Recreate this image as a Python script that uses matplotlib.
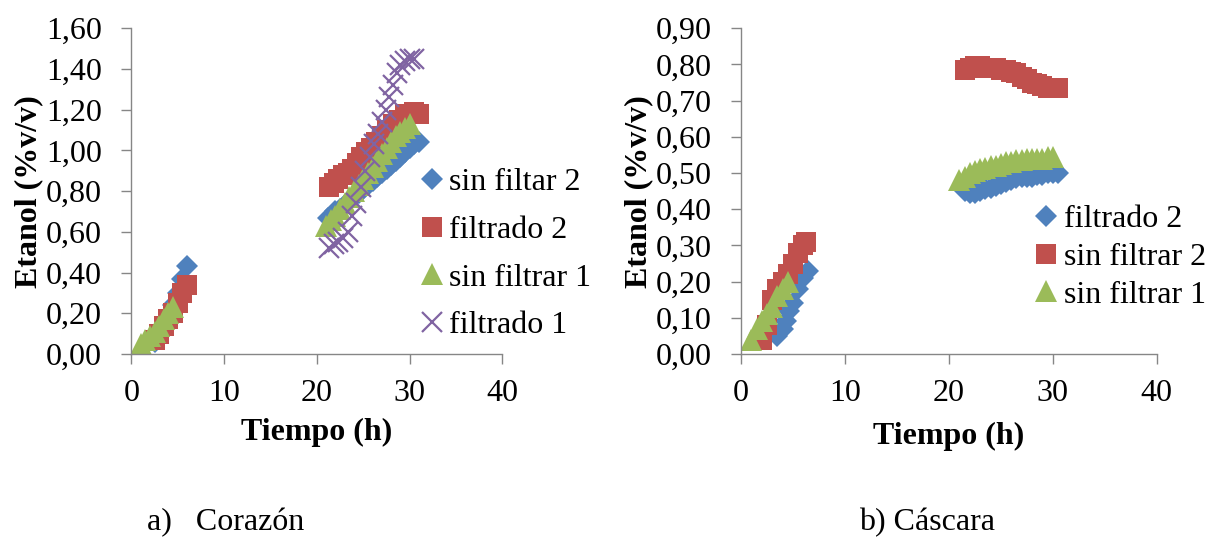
import matplotlib
matplotlib.use('Agg')
import matplotlib.pyplot as plt
from matplotlib.ticker import FuncFormatter, MultipleLocator

plt.rcParams['font.family'] = ['Liberation Serif', 'DejaVu Serif']

# colores de la paleta de Excel
AZUL = '#4F81BD'
ROJO = '#C0504D'
VERDE = '#9BBB59'
MORADO = '#8064A2'

# ---- a) Corazon ----
cor_sf2_t = [2.5, 3.0, 3.5, 4.0, 4.5, 5.0, 5.5, 6.0,
             21.2, 21.6, 22.0, 22.5, 23.0, 23.5, 24.0, 24.5, 25.0, 25.5, 26.0,
             26.5, 27.0, 27.5, 28.0, 28.5, 29.0, 29.5, 30.0, 30.5, 31.0]
cor_sf2_e = [0.06, 0.09, 0.13, 0.18, 0.24, 0.30, 0.37, 0.43,
             0.67, 0.68, 0.70, 0.71, 0.73, 0.75, 0.77, 0.79, 0.81, 0.83, 0.85,
             0.87, 0.89, 0.91, 0.93, 0.95, 0.97, 0.99, 1.01, 1.03, 1.04]

cor_f2_t = [2.5, 3.0, 3.5, 4.0, 4.5, 5.0, 5.5, 6.0,
            21.3, 21.8, 22.3, 22.8, 23.3, 23.8, 24.3, 24.8, 25.3, 25.8, 26.4,
            27.0, 27.6, 28.2, 28.8, 29.5, 30.0, 30.5, 31.0]
cor_f2_e = [0.07, 0.10, 0.14, 0.17, 0.20, 0.25, 0.30, 0.34,
            0.82, 0.84, 0.86, 0.88, 0.89, 0.91, 0.94, 0.97, 0.99, 1.01, 1.04,
            1.07, 1.10, 1.13, 1.15, 1.18, 1.18, 1.19, 1.18]

cor_sf1_t = [1.0, 1.5, 2.0, 2.5, 3.0, 3.5, 4.0, 4.5,
             21.0, 21.5, 22.0, 22.5, 23.0, 23.5, 24.0, 24.5, 25.0, 25.5, 26.0,
             26.5, 27.0, 27.5, 28.0, 28.5, 29.0, 29.5, 30.0]
cor_sf1_e = [0.05, 0.07, 0.09, 0.11, 0.14, 0.17, 0.20, 0.23,
             0.63, 0.66, 0.68, 0.71, 0.74, 0.77, 0.80, 0.83, 0.86, 0.89, 0.92,
             0.95, 0.98, 1.01, 1.04, 1.07, 1.09, 1.11, 1.13]

cor_f1_t = [21.3, 21.8, 22.3, 22.8, 23.3, 23.8, 24.2, 24.7, 25.2, 25.7, 26.2,
            26.6, 27.0, 27.4, 27.8, 28.2, 28.6, 29.0, 29.5, 30.0, 30.5]
cor_f1_e = [0.52, 0.54, 0.55, 0.57, 0.60, 0.68, 0.74, 0.82, 0.90, 0.97, 1.03,
            1.08, 1.14, 1.20, 1.26, 1.32, 1.38, 1.42, 1.44, 1.45, 1.45]

# ---- b) Cascara ----
cas_f2_t = [3.5, 4.0, 4.3, 4.6, 5.0, 5.5, 6.0, 6.4,
            21.5, 22.0, 22.5, 23.0, 23.5, 24.0, 24.5, 25.0, 25.5, 26.0, 26.5,
            27.0, 27.5, 28.0, 28.5, 29.0, 29.5, 30.0, 30.5]
cas_f2_e = [0.05, 0.07, 0.09, 0.12, 0.14, 0.18, 0.21, 0.23,
            0.45, 0.445, 0.445, 0.45, 0.455, 0.46, 0.465, 0.47, 0.475, 0.48, 0.485,
            0.49, 0.49, 0.49, 0.495, 0.495, 0.50, 0.50, 0.50]

cas_sf2_t = [2.0, 2.5, 3.0, 3.5, 4.0, 4.5, 5.0, 5.5, 6.0, 6.2,
             21.5, 22.0, 22.5, 23.0, 23.5, 24.0, 24.5, 25.0, 25.5, 26.0, 26.5,
             27.0, 27.5, 28.0, 28.5, 29.0, 29.5, 30.0, 30.5]
cas_sf2_e = [0.04, 0.08, 0.15, 0.18, 0.20, 0.22, 0.25, 0.28, 0.30, 0.31,
             0.785, 0.79, 0.795, 0.795, 0.79, 0.79, 0.79, 0.785, 0.785, 0.78, 0.775,
             0.765, 0.76, 0.75, 0.745, 0.74, 0.735, 0.735, 0.735]

cas_sf1_t = [1.0, 1.5, 2.0, 2.5, 3.0, 3.5, 4.0, 4.5,
             21.0, 21.5, 22.0, 22.5, 23.0, 23.5, 24.0, 24.5, 25.0, 25.5, 26.0,
             26.5, 27.0, 27.5, 28.0, 28.5, 29.0, 29.5, 30.0]
cas_sf1_e = [0.04, 0.07, 0.09, 0.11, 0.13, 0.16, 0.18, 0.20,
             0.48, 0.49, 0.50, 0.505, 0.51, 0.515, 0.52, 0.52, 0.525, 0.53, 0.53,
             0.535, 0.535, 0.54, 0.54, 0.54, 0.54, 0.545, 0.545]

FS = 23

fig = plt.figure(figsize=(12.05, 5.43), dpi=100)
ax1 = fig.add_axes([0.109, 0.348, 0.308, 0.600])
ax2 = fig.add_axes([0.615, 0.348, 0.345, 0.600])

coma = FuncFormatter(lambda v, p: f'{v:.2f}'.replace('.', ','))

def estilo(ax, ymax, paso, xpad):
    ax.set_xlim(0, 40)
    ax.set_ylim(0, ymax)
    ax.xaxis.set_major_locator(MultipleLocator(10))
    ax.yaxis.set_major_locator(MultipleLocator(paso))
    ax.yaxis.set_major_formatter(coma)
    for s in ['top', 'right']:
        ax.spines[s].set_visible(False)
    for s in ['left', 'bottom']:
        ax.spines[s].set_color('#868686')
        ax.spines[s].set_linewidth(1.0)
    ax.tick_params(direction='out', length=7, width=1.0, color='#868686',
                   labelsize=FS)
    ax.tick_params(axis='y', pad=14)
    ax.tick_params(axis='x', pad=11)
    ax.set_xlabel('Tiempo (h)', fontsize=FS, fontweight='bold', labelpad=xpad)
    ax.set_ylabel('Etanol (%v/v)', fontsize=FS, fontweight='bold', labelpad=2)

ax1.plot(cor_sf2_t, cor_sf2_e, 'D', ms=11, color=AZUL, mew=0, label='sin filtar 2')
ax1.plot(cor_f2_t, cor_f2_e, 's', ms=15, color=ROJO, mew=0, label='filtrado 2')
ax1.plot(cor_sf1_t, cor_sf1_e, '^', ms=16, color=VERDE, mew=0, label='sin filtrar 1')
ax1.plot(cor_f1_t, cor_f1_e, 'x', ms=15, color=MORADO, mew=1.6, label='filtrado 1')
estilo(ax1, 1.6, 0.2, 7)
ax1.legend(loc='upper left', bbox_to_anchor=(0.741, 0.61), frameon=False,
           fontsize=FS, handlelength=0.8, handletextpad=0.15, labelspacing=0.57,
           borderaxespad=0)

ax2.plot(cas_f2_t, cas_f2_e, 'D', ms=11, color=AZUL, mew=0, label='filtrado 2')
ax2.plot(cas_sf2_t, cas_sf2_e, 's', ms=15, color=ROJO, mew=0, label='sin filtrar 2')
ax2.plot(cas_sf1_t, cas_sf1_e, '^', ms=16, color=VERDE, mew=0, label='sin filtrar 1')
estilo(ax2, 0.9, 0.1, 10)
ax2.legend(loc='upper left', bbox_to_anchor=(0.673, 0.497), frameon=False,
           fontsize=FS, handlelength=0.8, handletextpad=0.15, labelspacing=0.26,
           borderaxespad=0)

fig.text(0.187, 0.038, 'a)   Corazón', fontsize=FS, ha='center', va='center')
fig.text(0.769, 0.038, 'b) Cáscara', fontsize=FS, ha='center', va='center')

fig.savefig('out.png', dpi=100)
